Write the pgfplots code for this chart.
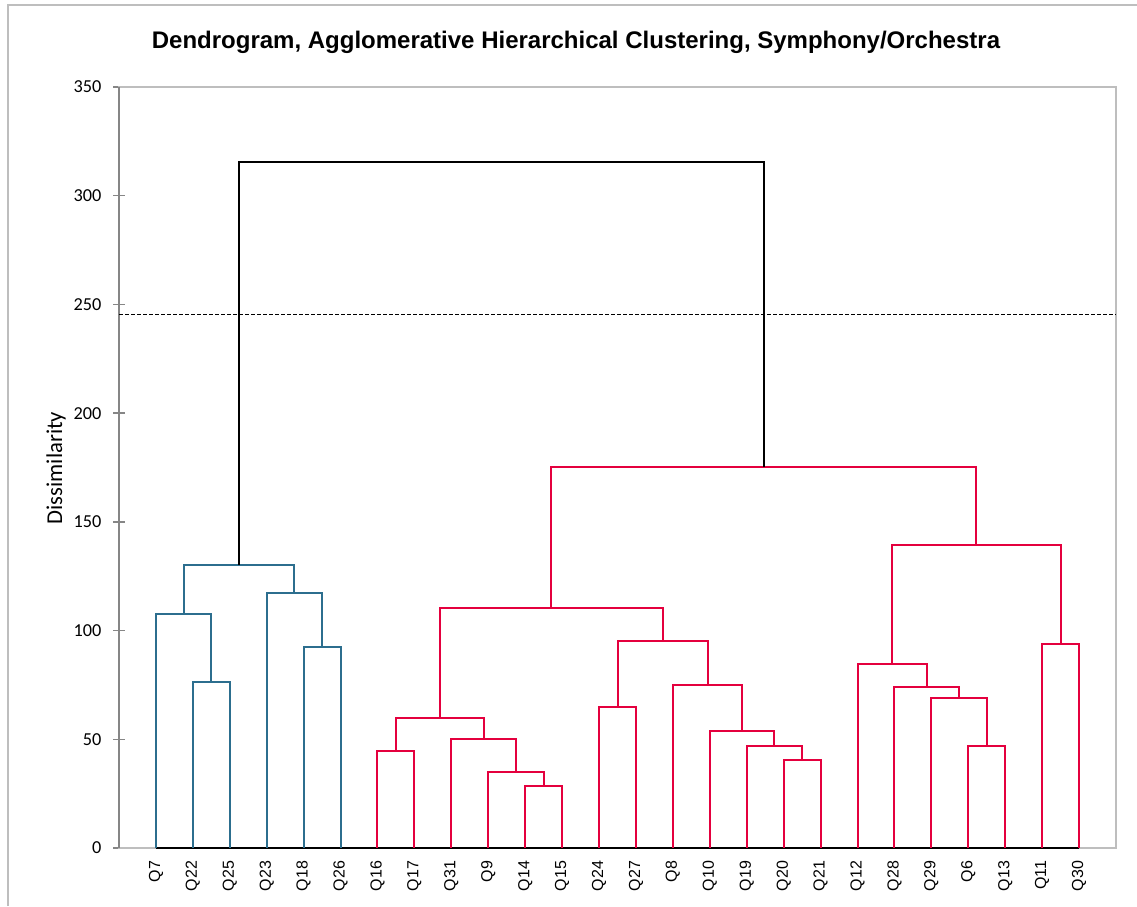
\documentclass[border=0pt]{standalone}
\usepackage{pgfplots}
\pgfplotsset{compat=1.18}
\usepackage{fontspec}
\setmainfont{Liberation Sans}
\newfontfamily\calibri{Carlito}
\definecolor{cblue}{RGB}{44,110,142}
\definecolor{cred}{RGB}{228,0,62}
\definecolor{gridgrey}{RGB}{190,190,190}
\definecolor{axisgrey}{RGB}{134,134,134}
\begin{document}
\begin{tikzpicture}
\useasboundingbox (0,0) rectangle (852.75pt,679.5pt);
% outer chart border
\draw[gridgrey, line width=1.5pt] (6pt,0pt) -- (6pt,675.75pt) -- (853pt,675.75pt);
\node[font=\bfseries\fontsize{18}{20}\selectfont] at (432pt,648pt) {Dendrogram, Agglomerative Hierarchical Clustering, Symphony/Orchestra};
\node[font=\calibri\fontsize{17}{19}\selectfont, rotate=90] at (42pt,328.5pt) {Dissimilarity};
\begin{axis}[
  at={(89.25pt,43.5pt)}, anchor=south west,
  width=747.75pt, height=570.75pt, scale only axis,
  xmin=0, xmax=27, ymin=0, ymax=350,
  xtick={1,...,26},
  xticklabels={Q7,Q22,Q25,Q23,Q18,Q26,Q16,Q17,Q31,Q9,Q14,Q15,Q24,Q27,Q8,Q10,Q19,Q20,Q21,Q12,Q28,Q29,Q6,Q13,Q11,Q30},
  xticklabel style={rotate=90, anchor=east, font=\fontsize{12}{14}\selectfont, inner xsep=5pt, inner ysep=0pt},
  xtick style={draw=none},
  ytick={0,50,...,350},
  yticklabel style={font=\calibri\fontsize{13.7}{15}\selectfont, anchor=east, inner sep=0pt, xshift=-8.5pt},
  /pgf/number format/assume math mode=true,
  ytick pos=left, tick align=center, major tick length=9pt,
  ytick style={axisgrey, line width=1pt},
  axis line style={gridgrey, line width=1.5pt},
  clip=false,
  line join=miter,
]
\draw[axisgrey, line width=1.2pt] (rel axis cs:0,0) -- (rel axis cs:0,1);
% cut line
\addplot[black, line width=0.8pt, dash pattern=on 3pt off 1.5pt] coordinates {(0,245.2) (27,245.2)};
% baseline
\addplot[black, line width=1.4pt] coordinates {(1,0) (26,0)};
% blue cluster
\addplot[cblue, line width=1.5pt] coordinates {(2,0) (2,76.4) (3,76.4) (3,0)};
\addplot[cblue, line width=1.5pt] coordinates {(1,0) (1,107.6) (2.5,107.6) (2.5,76.4)};
\addplot[cblue, line width=1.5pt] coordinates {(5,0) (5,92.5) (6,92.5) (6,0)};
\addplot[cblue, line width=1.5pt] coordinates {(4,0) (4,117.3) (5.5,117.3) (5.5,92.5)};
\addplot[cblue, line width=1.5pt] coordinates {(1.75,107.6) (1.75,130.2) (4.75,130.2) (4.75,117.3)};
% red cluster
\addplot[cred, line width=1.5pt] coordinates {(7,0) (7,44.6) (8,44.6) (8,0)};
\addplot[cred, line width=1.5pt] coordinates {(11,0) (11,28.5) (12,28.5) (12,0)};
\addplot[cred, line width=1.5pt] coordinates {(10,0) (10,35.0) (11.5,35.0) (11.5,28.5)};
\addplot[cred, line width=1.5pt] coordinates {(9,0) (9,50.1) (10.75,50.1) (10.75,35.0)};
\addplot[cred, line width=1.5pt] coordinates {(7.5,44.6) (7.5,59.8) (9.875,59.8) (9.875,50.1)};
\addplot[cred, line width=1.5pt] coordinates {(13,0) (13,64.9) (14,64.9) (14,0)};
\addplot[cred, line width=1.5pt] coordinates {(18,0) (18,40.5) (19,40.5) (19,0)};
\addplot[cred, line width=1.5pt] coordinates {(17,0) (17,46.9) (18.5,46.9) (18.5,40.5)};
\addplot[cred, line width=1.5pt] coordinates {(16,0) (16,53.8) (17.75,53.8) (17.75,46.9)};
\addplot[cred, line width=1.5pt] coordinates {(15,0) (15,75.0) (16.875,75.0) (16.875,53.8)};
\addplot[cred, line width=1.5pt] coordinates {(13.5,64.9) (13.5,95.2) (15.9375,95.2) (15.9375,75.0)};
\addplot[cred, line width=1.5pt] coordinates {(8.6875,59.8) (8.6875,110.4) (14.71875,110.4) (14.71875,95.2)};
\addplot[cred, line width=1.5pt] coordinates {(23,0) (23,46.9) (24,46.9) (24,0)};
\addplot[cred, line width=1.5pt] coordinates {(22,0) (22,69.0) (23.5,69.0) (23.5,46.9)};
\addplot[cred, line width=1.5pt] coordinates {(21,0) (21,74.1) (22.75,74.1) (22.75,69.0)};
\addplot[cred, line width=1.5pt] coordinates {(20,0) (20,84.6) (21.875,84.6) (21.875,74.1)};
\addplot[cred, line width=1.5pt] coordinates {(25,0) (25,93.8) (26,93.8) (26,0)};
\addplot[cred, line width=1.5pt] coordinates {(20.9375,84.6) (20.9375,139.4) (25.5,139.4) (25.5,93.8)};
\addplot[cred, line width=1.5pt] coordinates {(11.703,110.4) (11.703,175.3) (23.219,175.3) (23.219,139.4)};
% top merge
\addplot[black, line width=1.5pt] coordinates {(3.25,130.2) (3.25,315.5) (17.461,315.5) (17.461,175.3)};
\end{axis}
\end{tikzpicture}
\end{document}
